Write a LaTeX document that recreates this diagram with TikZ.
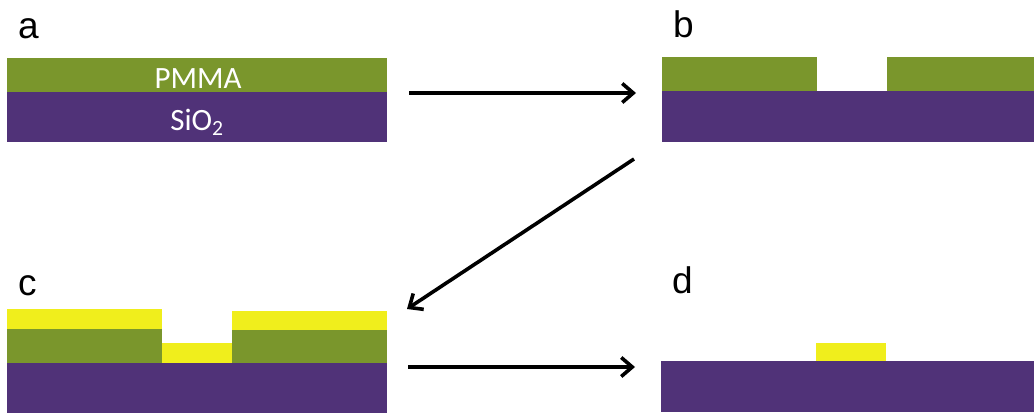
\documentclass[tikz,border=0pt]{standalone}
\usepackage{fontspec}
\setmainfont{Liberation Sans}
\newfontfamily\layerfont{Carlito}
\usetikzlibrary{arrows.meta}
\definecolor{pmma}{RGB}{122,150,44}
\definecolor{oxide}{RGB}{80,50,120}
\definecolor{metal}{RGB}{240,238,28}
\tikzset{
  panellabel/.style={anchor=base west, inner sep=0pt, font=\fontsize{37}{37}\selectfont},
  layerlabel/.style={anchor=base, inner sep=0pt, text=white, font=\layerfont\fontsize{31}{31}\selectfont},
  flow/.style={line width=3.6pt, -{Straight Barb[length=11pt,width=19pt,line width=3.6pt]}}
}
\begin{document}
\begin{tikzpicture}[x=1pt,y=-1pt]
\useasboundingbox (0,0) rectangle (1034,415);

% (a) resist on oxide
\fill[pmma]  (7,58) rectangle (387,92);
\fill[oxide] (7,92) rectangle (387,142);
\node[layerlabel] (pmmalbl) at (198,88) {PMMA};
\node[layerlabel] (oxidelbl) at (197,130) {SiO\textsubscript{2}};
\node[panellabel] (la) at (18,38) {a};

% (b) exposed and developed resist
\fill[pmma]  (662,57) rectangle (817,91);
\fill[pmma]  (887,57) rectangle (1034,91);
\fill[oxide] (662,91) rectangle (1034,142);
\node[panellabel] (lb) at (673,37) {b};

% (c) metal evaporation
\fill[metal] (7,309) rectangle (162,329);
\fill[pmma]  (7,329) rectangle (162,363);
\fill[metal] (232,311) rectangle (387,330);
\fill[pmma]  (232,330) rectangle (387,363);
\fill[metal] (162,343) rectangle (232,363);
\fill[oxide] (7,363) rectangle (387,413);
\node[panellabel] (lc) at (18,295) {c};

% (d) lift-off
\fill[oxide] (661,361) rectangle (1034,412);
\fill[metal] (816,343) rectangle (886,361);
\node[panellabel] (ld) at (672,293) {d};

% process flow
\coordinate (aout) at (409,93);
\coordinate (bin)  at (636,93);
\coordinate (bout) at (634,159);
\coordinate (cin)  at (407,309);
\coordinate (cout) at (408,367);
\coordinate (din)  at (635,367);
\draw[flow] (aout) -- (bin);
\draw[flow] (bout) -- (cin);
\draw[flow] (cout) -- (din);
\end{tikzpicture}
\end{document}
